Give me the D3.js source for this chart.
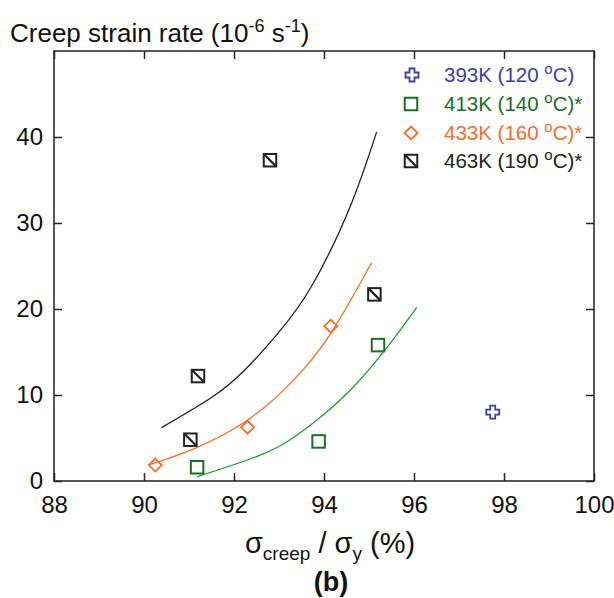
<!DOCTYPE html>
<html><head><meta charset="utf-8">
<script src="https://cdn.jsdelivr.net/npm/d3@7"></script>
<style>body{margin:0;background:#fff}svg{display:block}text{font-family:"Liberation Sans",Arial,sans-serif}</style>
</head><body><svg id="c" width="614" height="598"></svg>
<script>
const xTicks=[88,90,92,94,96,98,100];
const yTicks=[0,10,20,30,40];
const seriesNames=["393K (120 °C)","413K (140 °C)*","433K (160 °C)*","463K (190 °C)*"];
const s393=[[97.75,8.0]];
const s413=[[91.18,1.6],[93.88,4.6],[95.2,15.8]];
const s433=[[90.25,1.85],[92.3,6.25],[94.15,18.0]];
const s463=[[91.03,4.8],[91.2,12.2],[92.8,37.3],[95.12,21.7]];
const fit413=[[91.18,0.5],[92.5,2.83],[93.24,4.77],[93.98,7.67],[94.73,11.36],[95.47,16.0],[96.06,20.2]];
const fit433=[[90.13,1.9],[91.13,3.8],[92.28,7.0],[93.28,11.5],[94.13,17.0],[95.06,25.4]];
const fit463=[[90.39,6.2],[91.5,9.7],[92.24,12.9],[92.98,17.2],[93.73,22.7],[94.58,31.9],[95.17,40.6]];

const svg=d3.select("#c");
const L=54,R=594,T=51,B=481;
const x=d3.scaleLinear().domain([88,100]).range([L,R]);
const y=d3.scaleLinear().domain([0,50]).range([B,T]);
const cBlue="#3c3ea6",cGreen="#1b6e2a",cGreenL="#2a9a3a",cOrange="#f36f2a",cBlack="#222";

// frame
svg.append("rect").attr("x",L).attr("y",T).attr("width",R-L).attr("height",B-T).attr("fill","none").attr("stroke","#222").attr("stroke-width",1.5);
const tl=8;
const gb=svg.append("g").attr("transform",`translate(0,${B})`).call(d3.axisBottom(x).tickValues(xTicks).tickSize(-tl).tickPadding(15));
const gt=svg.append("g").attr("transform",`translate(0,${T})`).call(d3.axisTop(x).tickValues(xTicks).tickSize(-tl).tickFormat(""));
const gl=svg.append("g").attr("transform",`translate(${L},0)`).call(d3.axisLeft(y).tickValues(yTicks).tickSize(-tl).tickPadding(11));
const gr=svg.append("g").attr("transform",`translate(${R},0)`).call(d3.axisRight(y).tickValues(yTicks).tickSize(-tl).tickFormat(""));
[gb,gt,gl,gr].forEach(g=>{g.select(".domain").remove();g.selectAll("line").attr("stroke","#222").attr("stroke-width",1.5);g.selectAll("text").attr("font-size",24).attr("fill","#111").style("font-family","Liberation Sans, Arial, sans-serif");});

// curves
const line=d3.line().x(d=>x(d[0])).y(d=>y(d[1])).curve(d3.curveNatural);
[[fit463,cBlack],[fit433,cOrange],[fit413,cGreenL]].forEach(([d,c])=>{
  svg.append("path").attr("d",line(d)).attr("fill","none").attr("stroke",c).attr("stroke-width",1.3);
});

// markers
function sq(g,cx,cy,c,diag){
  const s=12.5;
  g.append("rect").attr("x",cx-s/2).attr("y",cy-s/2).attr("width",s).attr("height",s).attr("fill","none").attr("stroke",c).attr("stroke-width",2);
  if(diag) g.append("line").attr("x1",cx-s/2).attr("y1",cy-s/2).attr("x2",cx+s/2).attr("y2",cy+s/2).attr("stroke",c).attr("stroke-width",2.2);
}
function dia(g,cx,cy,c){
  const r=6.5;
  g.append("path").attr("d",`M${cx},${cy-r}L${cx+r},${cy}L${cx},${cy+r}L${cx-r},${cy}Z`).attr("fill","none").attr("stroke",c).attr("stroke-width",1.8);
}
function plus(g,cx,cy,c){
  const a=2.5,b=6.5;
  g.append("path").attr("d",`M${cx-a},${cy-b}H${cx+a}V${cy-a}H${cx+b}V${cy+a}H${cx+a}V${cy+b}H${cx-a}V${cy+a}H${cx-b}V${cy-a}H${cx-a}Z`).attr("fill","none").attr("stroke",c).attr("stroke-width",1.8);
}
const gm=svg.append("g");
s393.forEach(d=>plus(gm,x(d[0]),y(d[1]),cBlue));
s413.forEach(d=>sq(gm,x(d[0]),y(d[1]),cGreen,false));
s433.forEach(d=>dia(gm,x(d[0]),y(d[1]),cOrange));
s463.forEach(d=>sq(gm,x(d[0]),y(d[1]),cBlack,true));

// legend
const rows=[75,104,133,161];
const lcols=[cBlue,cGreen,cOrange,cBlack];
const lg=svg.append("g");
plus(lg,412,rows[0],cBlue);
sq(lg,411,rows[1],cGreen,false);
dia(lg,411,rows[2],cOrange);
sq(lg,411,rows[3],cBlack,true);
seriesNames.forEach((n,i)=>{
  const m=n.match(/^(\S+ \(\d+ )°(C\)\*?)$/);
  const t=lg.append("text").attr("x",444).attr("y",rows[i]+7).attr("font-size",20.5).attr("fill",lcols[i]);
  t.append("tspan").text(m[1]);
  t.append("tspan").attr("dy",-8).attr("font-size",15).text("o");
  t.append("tspan").attr("dy",8).text(m[2]);
});

// titles
const tt=svg.append("text").attr("x",10).attr("y",42).attr("font-size",26).attr("fill","#111");
tt.append("tspan").text("Creep strain rate (10");
tt.append("tspan").attr("dy",-10).attr("font-size",18).text("-6");
tt.append("tspan").attr("dy",10).text(" s");
tt.append("tspan").attr("dy",-10).attr("font-size",18).text("-1");
tt.append("tspan").attr("dy",10).text(")");

const xl=svg.append("text").attr("x",330).attr("y",553).attr("text-anchor","middle").attr("font-size",29).attr("fill","#111");
xl.append("tspan").text("σ");
xl.append("tspan").attr("dy",7).attr("font-size",19).text("creep");
xl.append("tspan").attr("dy",-7).text(" / σ");
xl.append("tspan").attr("dy",7).attr("font-size",19).text("y");
xl.append("tspan").attr("dy",-7).text(" (%)");

svg.append("text").attr("x",331).attr("y",591).attr("text-anchor","middle").attr("font-size",27).attr("font-weight","bold").attr("fill","#111").text("(b)");
</script></body></html>
